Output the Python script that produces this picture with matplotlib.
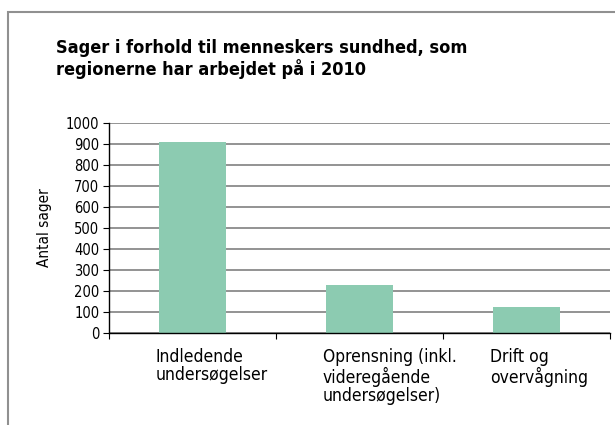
import matplotlib.pyplot as plt
from matplotlib.patches import Rectangle
import numpy as np

kategorier = ['Indledende\nundersøgelser', 'Oprensning (inkl.\nvideregående\nundersøgelser)', 'Drift og\novervågning']
antal = [910, 228, 125]
yticks = [0, 100, 200, 300, 400, 500, 600, 700, 800, 900, 1000]

plt.rcParams['font.family'] = ['DejaVu Sans']

fig = plt.figure(figsize=(6.15, 4.25), dpi=100)
W, H = 615, 425
ax = fig.add_axes([109 / W, 1 - 333 / H, (610 - 109) / W, (333 - 123) / H])

x = np.arange(len(antal))
ax.bar(x, antal, width=0.4, color='#8ccbb1', zorder=2)
ax.set_xlim(-0.5, 2.5)
ax.set_ylim(0, 1000)
ax.set_yticks(yticks)
ax.yaxis.grid(True, color='#808080', linewidth=1.2, zorder=0)
ax.tick_params(axis='y', labelsize=10.5, length=4, direction='out', pad=3)
for t in ax.get_yticklabels():
    t.set_fontstretch('condensed')
ax.set_xticks([-0.5, 0.5, 1.5, 2.5])
ax.set_xticklabels([])
ax.tick_params(axis='x', length=4, direction='out')
for s in ['top', 'right']:
    ax.spines[s].set_visible(False)
for s in ['left', 'bottom']:
    ax.spines[s].set_color('black')
    ax.spines[s].set_linewidth(1)

for i, lab in enumerate(kategorier):
    ax.text(i - 0.22, -70, lab, ha='left', va='top', fontsize=12.5, fontstretch='condensed', linespacing=1.05)

ax.set_ylabel('Antal sager', fontsize=11, labelpad=10, fontstretch='condensed')

fig.text(56 / W, 1 - 39 / H, 'Sager i forhold til menneskers sundhed, som\nregionerne har arbejdet på i 2010',
         fontsize=13, fontweight='bold', fontstretch='condensed', ha='left', va='top', linespacing=1.1)

fig.patches.append(Rectangle((8 / W, -0.1), 1.2, 1 - 12 / H + 0.1, transform=fig.transFigure,
                             fill=False, edgecolor='#909090', linewidth=1.5))

fig.savefig('out.png', dpi=100)
